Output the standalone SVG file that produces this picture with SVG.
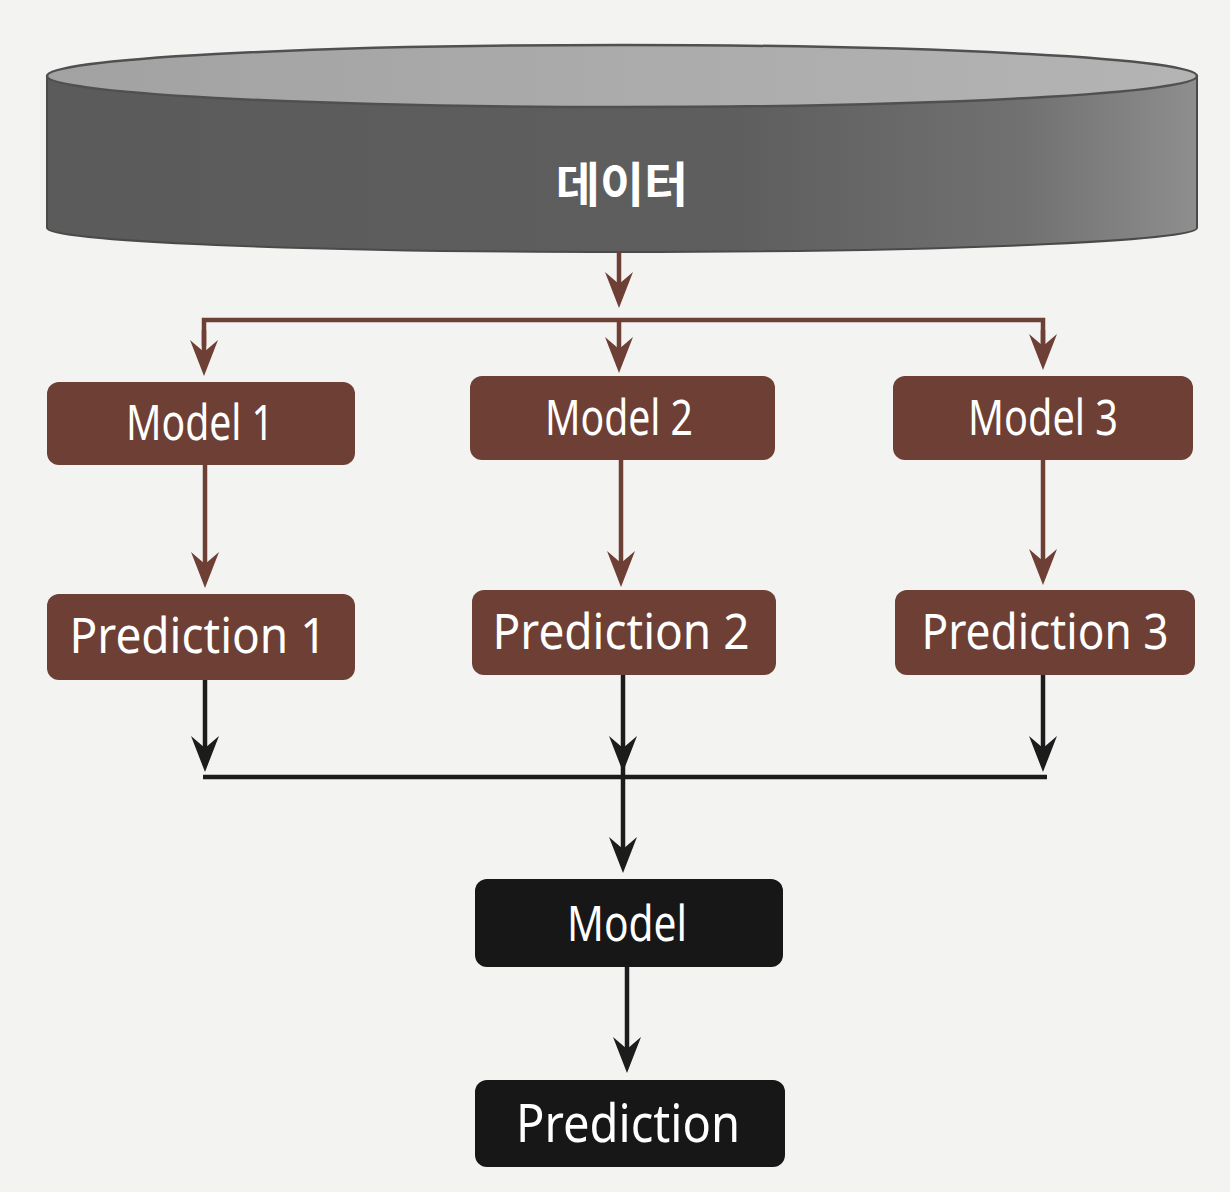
<svg xmlns="http://www.w3.org/2000/svg" width="1230" height="1192" viewBox="0 0 1230 1192">
  <style>
    .brown { fill: #6d3f35; }
    .black { fill: #171717; }
    .lbl { font-family: "Noto Sans", "Liberation Sans", sans-serif; fill: #ffffff; text-anchor: middle; }
    .bl { stroke: #6d3f35; stroke-width: 4.5; fill: none; }
    .kl { stroke: #1c1c1c; stroke-width: 4.5; fill: none; }
  </style>
  <defs>
    <linearGradient id="side" x1="0" y1="0" x2="1" y2="0">
      <stop offset="0" stop-color="#5b5b5b"/>
      <stop offset="0.6" stop-color="#5e5e5e"/>
      <stop offset="0.85" stop-color="#717171"/>
      <stop offset="1" stop-color="#8e8e8e"/>
    </linearGradient>
    <linearGradient id="topface" x1="0" y1="0" x2="1" y2="0">
      <stop offset="0" stop-color="#a2a2a2"/>
      <stop offset="1" stop-color="#b4b4b4"/>
    </linearGradient>
    <marker id="ab" viewBox="-22 -16 40 32" refX="0" refY="0" markerWidth="40" markerHeight="32" markerUnits="userSpaceOnUse" orient="auto">
      <path d="M16,0 L-20,-14 L-8,0 L-20,14 Z" fill="#6d3f35"/>
    </marker>
    <marker id="ak" viewBox="-22 -16 40 32" refX="0" refY="0" markerWidth="40" markerHeight="32" markerUnits="userSpaceOnUse" orient="auto">
      <path d="M16,0 L-20,-14 L-8,0 L-20,14 Z" fill="#1c1c1c"/>
    </marker>
  </defs>
  <rect x="0" y="0" width="1230" height="1192" fill="#f3f3f1"/>

  <g id="data">
    <path d="M47,76 L47,228 A575,24 0 0 0 1197,228 L1197,76 Z" fill="url(#side)" stroke="#4a4a4a" stroke-width="2"/>
    <ellipse cx="622" cy="76" rx="575" ry="31" fill="url(#topface)" stroke="#505050" stroke-width="2.5"/>
    <text x="622" y="202" font-family="Noto Sans CJK KR, sans-serif" font-weight="bold" font-size="48" fill="#ffffff" text-anchor="middle">데이터</text>
  </g>

  <g id="connectors">
    <line class="bl" x1="619" y1="252" x2="619" y2="292" marker-end="url(#ab)"/>
    <polyline class="bl" points="204,346 204,320 1043,320 1043,346"/>
    <line class="bl" x1="204" y1="330" x2="204" y2="360" marker-end="url(#ab)"/>
    <line class="bl" x1="1043" y1="330" x2="1043" y2="354" marker-end="url(#ab)"/>
    <line class="bl" x1="619" y1="320" x2="619" y2="357" marker-end="url(#ab)"/>
    <line class="bl" x1="205" y1="465" x2="205" y2="572" marker-end="url(#ab)"/>
    <line class="bl" x1="621" y1="460" x2="621" y2="571" marker-end="url(#ab)"/>
    <line class="bl" x1="1043" y1="460" x2="1043" y2="569" marker-end="url(#ab)"/>
    <line class="kl" x1="205" y1="680" x2="205" y2="756" marker-end="url(#ak)"/>
    <line class="kl" x1="623" y1="675" x2="623" y2="756" marker-end="url(#ak)"/>
    <line class="kl" x1="1043" y1="675" x2="1043" y2="756" marker-end="url(#ak)"/>
    <line class="kl" x1="203" y1="777" x2="1047" y2="777"/>
    <line class="kl" x1="623" y1="760" x2="623" y2="857" marker-end="url(#ak)"/>
    <line class="kl" x1="627" y1="967" x2="627" y2="1057" marker-end="url(#ak)"/>
  </g>

  <g id="model1">
    <rect class="brown" x="47" y="382" width="308" height="83" rx="12"/>
    <text class="lbl" x="200" y="440" font-size="50" textLength="148" lengthAdjust="spacingAndGlyphs">Model 1</text>
  </g>
  <g id="model2">
    <rect class="brown" x="470" y="376" width="305" height="84" rx="12"/>
    <text class="lbl" x="619" y="435" font-size="50" textLength="148" lengthAdjust="spacingAndGlyphs">Model 2</text>
  </g>
  <g id="model3">
    <rect class="brown" x="893" y="376" width="300" height="84" rx="12"/>
    <text class="lbl" x="1043" y="435" font-size="50" textLength="150" lengthAdjust="spacingAndGlyphs">Model 3</text>
  </g>
  <g id="prediction1">
    <rect class="brown" x="47" y="594" width="308" height="86" rx="12"/>
    <text class="lbl" x="198" y="653" font-size="50" textLength="257" lengthAdjust="spacingAndGlyphs">Prediction 1</text>
  </g>
  <g id="prediction2">
    <rect class="brown" x="472" y="590" width="304" height="85" rx="12"/>
    <text class="lbl" x="621" y="649" font-size="50" textLength="257" lengthAdjust="spacingAndGlyphs">Prediction 2</text>
  </g>
  <g id="prediction3">
    <rect class="brown" x="895" y="590" width="300" height="85" rx="12"/>
    <text class="lbl" x="1045" y="649" font-size="50" textLength="247" lengthAdjust="spacingAndGlyphs">Prediction 3</text>
  </g>
  <g id="model">
    <rect class="black" x="475" y="879" width="308" height="88" rx="12"/>
    <text class="lbl" x="627" y="941" font-size="50" textLength="120" lengthAdjust="spacingAndGlyphs">Model</text>
  </g>
  <g id="prediction">
    <rect class="black" x="475" y="1080" width="310" height="87" rx="12"/>
    <text class="lbl" x="628" y="1142" font-size="52" textLength="224" lengthAdjust="spacingAndGlyphs">Prediction</text>
  </g>
</svg>
